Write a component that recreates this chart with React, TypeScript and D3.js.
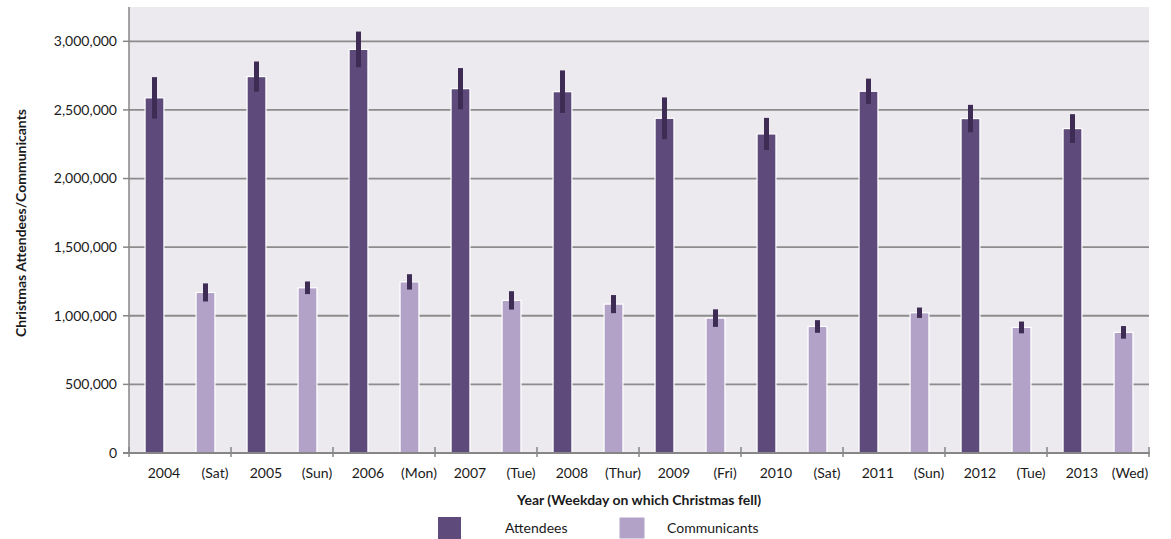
import React from "react";
import * as d3 from "d3";

const years = ["2004", "2005", "2006", "2007", "2008", "2009", "2010", "2011", "2012", "2013"];
const weekdays = ["(Sat)", "(Sun)", "(Mon)", "(Tue)", "(Thur)", "(Fri)", "(Sat)", "(Sun)", "(Tue)", "(Wed)"];
const attendees = [2588000, 2743000, 2941000, 2655000, 2633000, 2439000, 2325000, 2636000, 2437000, 2364000];
const attendeesErr = [151000, 110000, 130000, 150000, 155000, 152000, 117000, 92000, 100000, 105000];
const communicants = [1170000, 1204000, 1247000, 1112000, 1085000, 983000, 922000, 1022000, 915000, 879000];
const communicantsErr = [66000, 46000, 56000, 67000, 66000, 64000, 46000, 38000, 43000, 46000];
const yTicks = [0, 500000, 1000000, 1500000, 2000000, 2500000, 3000000];
const seriesNames = ["Attendees", "Communicants"];

const W = 1171;
const H = 539;
const left = 129;
const right = 1149;
const top = 7;
const bottom = 453;

const C_ATT = "#5f4b7b";
const C_COM = "#b2a2c8";
const C_ERR = "#3e2c54";
const C_BG = "#ece9ef";
const C_GRID = "#8c8c8c";
const FONT = "Lato, 'Open Sans', sans-serif";

export default function App() {
  // 20 slots: year slot then weekday slot
  const slots: { label: string; value: number; err: number; series: number }[] = [];
  years.forEach((y, i) => {
    slots.push({ label: y, value: attendees[i], err: attendeesErr[i], series: 0 });
    slots.push({ label: weekdays[i], value: communicants[i], err: communicantsErr[i], series: 1 });
  });

  const x = d3.scaleBand<number>().domain(d3.range(slots.length)).range([left, right]).padding(0);
  const y = d3.scaleLinear().domain([0, 3250000]).range([bottom, top]);
  const bw = x.bandwidth() * 0.37;
  const fmt = d3.format(",");
  const groupTicks = d3.range(0, slots.length + 1, 2).map((i) => (i < slots.length ? x(i)! : right));

  return (
    <div style={{ position: "absolute", left: 0, top: 0 }}>
      <svg width={W} height={H} style={{ display: "block", fontFamily: FONT }}>
        <rect x={left} y={top} width={right - left} height={bottom - top} fill={C_BG} />
        {yTicks.filter((t) => t > 0).map((t) => (
          <line key={t} x1={left} x2={right} y1={y(t)} y2={y(t)} stroke={C_GRID} strokeWidth={1.8} />
        ))}
        {slots.map((s, i) => {
          const cx = x(i)! + x.bandwidth() / 2;
          return (
            <g key={i}>
              <rect
                x={cx - bw / 2}
                y={y(s.value)}
                width={bw}
                height={bottom - y(s.value)}
                fill={s.series === 0 ? C_ATT : C_COM}
                stroke="#ffffff"
                strokeWidth={1.2}
              />
              <line
                x1={cx}
                x2={cx}
                y1={y(s.value + s.err)}
                y2={y(s.value - s.err)}
                stroke={C_ERR}
                strokeWidth={5}
              />
            </g>
          );
        })}
        {/* axes */}
        <line x1={left} x2={left} y1={top} y2={bottom} stroke="#868686" strokeWidth={1.5} />
        <line x1={left - 6} x2={right + 1} y1={bottom} y2={bottom} stroke="#868686" strokeWidth={1.8} />
        {yTicks.map((t) => (
          <g key={t}>
            <line x1={left - 6} x2={left} y1={y(t)} y2={y(t)} stroke="#868686" strokeWidth={1.5} />
            <text x={left - 12} y={y(t)} dy="0.35em" textAnchor="end" fontSize={14} fill="#1a1a1a">
              {fmt(t)}
            </text>
          </g>
        ))}
        {groupTicks.map((gx, i) => (
          <line key={i} x1={gx} x2={gx} y1={bottom - 6} y2={bottom + 4} stroke="#868686" strokeWidth={1.5} />
        ))}
        {slots.map((s, i) => (
          <text
            key={i}
            x={Math.min(x(i)! + x.bandwidth() / 2 + 9.5, 1130)}
            y={478}
            textAnchor="middle"
            fontSize={14}
            fill="#1a1a1a"
          >
            {s.label}
          </text>
        ))}
        <text x={639} y={505} textAnchor="middle" fontSize={14} fontWeight="bold" fill="#1a1a1a">
          Year (Weekday on which Christmas fell)
        </text>
        <text
          transform={`translate(26,223) rotate(-90)`}
          textAnchor="middle"
          fontSize={14}
          fontWeight="bold"
          fill="#1a1a1a"
        >
          Christmas Attendees/Communicants
        </text>
        {/* legend */}
        <rect x={438} y={517} width={23} height={23} fill={C_ATT} />
        <text x={505} y={533} fontSize={14} fill="#1a1a1a">{seriesNames[0]}</text>
        <rect x={619} y={517} width={26} height={22} fill={C_COM} stroke="#ffffff" strokeWidth={1} />
        <text x={667} y={533} fontSize={14} fill="#1a1a1a">{seriesNames[1]}</text>
      </svg>
    </div>
  );
}
